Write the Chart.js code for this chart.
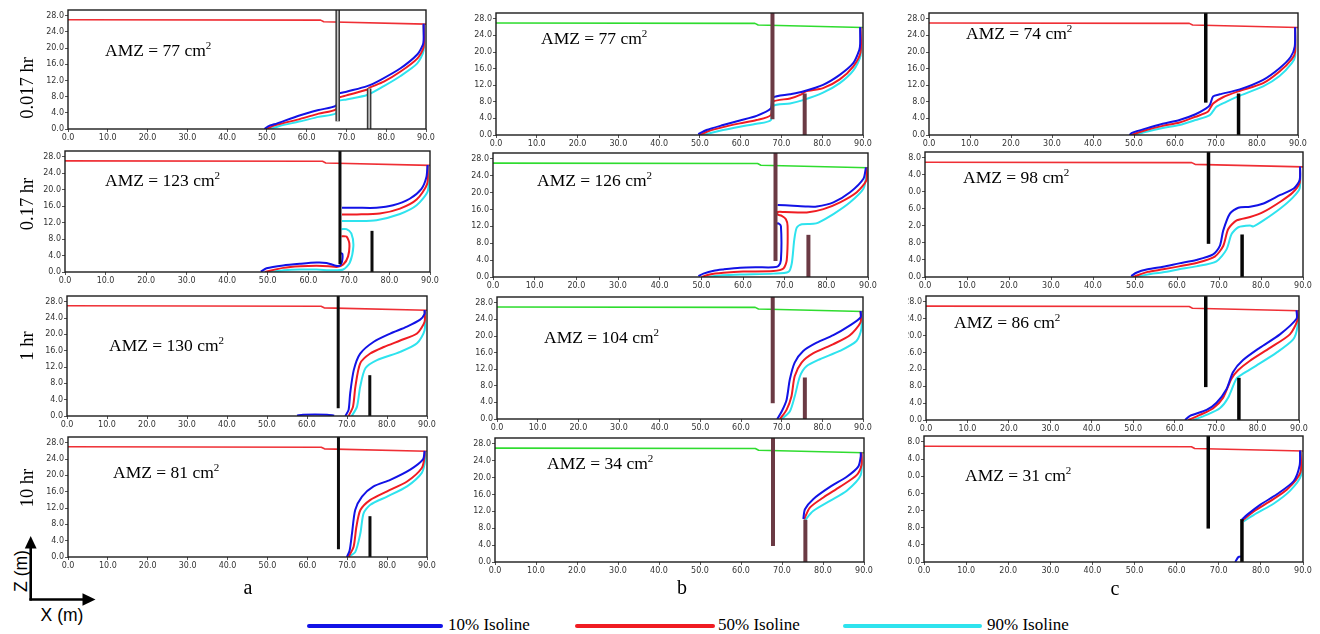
<!DOCTYPE html>
<html>
<head>
<meta charset="utf-8">
<script src="https://cdn.jsdelivr.net/npm/chart.js@4.4.0/dist/chart.umd.min.js"></script>
<style>
  html, body { margin:0; padding:0; background:#fff; width:1320px; height:634px; overflow:hidden; position:relative; }
  .panel { position:absolute; overflow:hidden; }
  .panel canvas { position:absolute; top:0; }
  .amz { position:absolute; font-family:"Liberation Serif","Times New Roman",serif; font-size:17.5px; line-height:20px; color:#000; white-space:nowrap; }
  .amz sup { font-size:11px; line-height:0; vertical-align:super; }
  .rowlab { position:absolute; font-family:"Liberation Serif","Times New Roman",serif; font-size:18.5px; line-height:20px; white-space:nowrap; transform:translate(-50%,-50%) rotate(-90deg); }
  .collab { position:absolute; font-family:"Liberation Serif","Times New Roman",serif; font-size:20px; line-height:22px; transform:translate(-50%,-50%); }
  .legline { position:absolute; height:4px; border-radius:2px; top:624px; }
  .legtxt { position:absolute; font-family:"Liberation Serif","Times New Roman",serif; font-size:17px; line-height:20px; top:615px; white-space:nowrap; }
  .axlab { position:absolute; font-family:"Liberation Sans",Arial,sans-serif; font-size:17.5px; line-height:20px; white-space:nowrap; }
</style>
</head>
<body>
<svg width="110" height="90" style="position:absolute;left:0;top:530px" viewBox="0 530 110 90">
  <line x1="30.7" y1="600.5" x2="30.7" y2="546" stroke="#000" stroke-width="2.6"/>
  <polygon points="30.7,536 24.8,548.5 36.6,548.5" fill="#000"/>
  <line x1="29.4" y1="599.5" x2="84" y2="599.5" stroke="#000" stroke-width="2.6"/>
  <polygon points="95.5,599.5 82.5,593.2 82.5,605.8" fill="#000"/>
</svg>
<div class="axlab" style="left:21px;top:571px;transform:translate(-50%,-50%) rotate(-90deg)">Z (m)</div>
<div class="axlab" style="left:62px;top:615px;transform:translate(-50%,-50%)">X (m)</div>

<script>
// Axis ticks shared by every panel
const xTicks = [0, 10, 20, 30, 40, 50, 60, 70, 80, 90];
const zTicks = [0, 4, 8, 12, 16, 20, 24, 28];
const zTop = 29.4;

// Water table (x, z)
const waterTable = [[0, 27.0], [63.5, 26.9], [64.3, 26.5], [90, 25.9]];

// Cut-off wall and downstream barrier for each scenario
const cutoffA = [[67.8, 1.9], [67.8, 29.4]];
const barrierA = [[75.7, 0], [75.7, 10]];
const cutoffB = [[67.8, 3.8], [67.8, 29.4]];
const barrierB = [[75.7, 0], [75.7, 10]];
const cutoffC = [[67.5, 7.8], [67.5, 29.4]];
const barrierC = [[75.5, 0], [75.5, 10]];

// Salinity isolines (x, z); null separates disconnected pieces
// 0.017 hr
const iso10_a1 = [[49.4,0],[50.2,0.6],[52.6,1.4],[58.4,3.4],[63,4.7],[67.4,5.8],[67.9,8.6],[70,9.2],[75.2,10.6],[78.5,12.1],[83.6,15],[87.8,18.4],[89.2,20.8],[89.4,22],[89.4,26]];
const iso50_a1 = [[49.9,0],[52,0.9],[58.4,2.5],[63,3.8],[67.4,4.9],[67.9,7.6],[70,8.3],[75.1,9.7],[75.8,10.2],[79.4,11.7],[83.6,14.2],[87.8,17.4],[89.4,20.2],[89.4,26]];
const iso90_a1 = [[50.8,0],[53,0.7],[58.4,1.9],[63,3],[67.4,3.9],[67.9,6.8],[70,7.3],[75.2,8.4],[79.4,10.6],[83.6,13.1],[87.8,16.2],[89.4,19.4],[89.4,26]];

const iso10_b1 = [[49.6,0.2],[51.6,1.2],[55.7,2.4],[59.8,3.5],[63.9,4.6],[67.4,6.4],[67.9,9],[72.1,9.8],[75.3,10.5],[80.2,12.1],[84.3,14.5],[87.6,17.3],[89.1,20.5],[89.3,22],[89.3,26]];
const iso50_b1 = [[50,0],[52,0.9],[55.7,1.9],[59.8,2.8],[63.9,3.6],[67.4,4.8],[67.9,8],[72.1,8.8],[74.9,9.8],[75.9,10.5],[80.2,11.3],[84.3,13.4],[87.6,16.5],[89.4,19.9],[89.4,26]];
const iso90_b1 = [[50.8,0],[55.7,1.2],[59.8,2],[63.9,2.7],[67.4,3.6],[67.9,7],[72.1,7.6],[75.3,8.4],[80.2,10.2],[84.3,12.5],[87.6,15.5],[89.4,19.1],[89.4,26]];

const iso10_c1 = [[48.9,0],[49.5,0.5],[53,1.6],[57,2.7],[61.1,3.6],[65,5],[67.6,6.4],[68.5,7.2],[69.3,9.3],[70.9,9.8],[75.8,11],[81.5,13.3],[85.5,16.1],[88.2,18.8],[89.2,21.3],[89.3,26]];
const iso50_c1 = [[49.3,0],[53,1.2],[57,2.2],[61.1,3],[65,4.4],[68,5.6],[69.3,7.6],[71.7,9.1],[75.4,10.5],[81.5,12.5],[85.5,15.3],[88.5,18.3],[89.3,20],[89.3,26]];
const iso90_c1 = [[50.2,0],[53,0.8],[57,1.7],[61.1,2.4],[65,3.6],[68.5,4.8],[70.1,6.8],[72.5,8],[75.4,9.3],[81.5,11.7],[85.5,14.2],[88.5,17.3],[89.3,19],[89.3,26]];

// 0.17 hr
const iso10_a2 = [[48.3,0.1],[49.7,0.9],[53.8,1.6],[57.9,2],[62,2.3],[64.5,2.2],[66.5,1.6],[67.7,1.5],[68.3,2.5],[68.4,4.4],[68,4.6], null,
                  [68.3,15.6],[72,15.6],[76.8,15.6],[80.9,16.2],[85,17.8],[87.9,20.2],[89.1,23],[89.4,26]];
const iso50_a2 = [[49.3,0],[53.8,1],[58,1.4],[62,1.5],[65,1.4],[67,1.2],[68.6,1.8],[69.8,3.8],[70.1,7],[69.4,8.6],[68.2,8.7], null,
                  [68.3,14],[72,14],[77.6,14.2],[82.6,15.4],[86.7,17.6],[89.3,21.4],[89.4,26]];
const iso90_a2 = [[50.5,0],[54,0.4],[58,0.6],[62,0.6],[66.1,0.4],[68.6,0.6],[70.2,2.2],[71.1,6.2],[70.6,9.4],[69.4,10.4],[68.2,10.4], null,
                  [68.3,12.4],[72,12.4],[76.8,12.6],[82.6,14.1],[86.7,16.2],[89.5,19.8],[89.5,26]];

const iso10_b2 = [[49.3,0.2],[50.5,0.8],[53,1.5],[55.3,1.8],[59.3,2.2],[63,2.3],[67.3,2.3],[68.5,2.6],[69.1,4],[69.1,12.1],[68.5,12.7],[68.1,12.7], null,
                  [68.3,17.1],[72,16.9],[75.3,16.7],[77.7,16.7],[81.7,17.7],[85.7,20.1],[88.9,23.3],[89.5,26]];
const iso50_b2 = [[50.1,0],[52,0.6],[55.3,1],[60,1.3],[67.3,1.4],[69.7,2],[70.5,4],[70.7,12.1],[70.3,13.7],[69.3,14.5],[68.3,14.8],[68.3,15.4],[70,15.4],[75.3,15.3],[79.3,16.1],[83.3,17.7],[87.3,20.1],[89.6,22.9],[89.6,26]];
const iso90_b2 = [[51.3,0],[55,0.4],[59.3,0.6],[67.3,0.8],[70.9,1.2],[71.7,3.2],[72.3,8.8],[72.9,11.7],[74.1,12.5],[76.9,12.6],[78.1,12.9],[81.7,14.9],[85.7,17.7],[88.9,20.9],[89.6,24.1],[89.6,26]];

const iso10_c2 = [[49.1,0.2],[50.3,1],[53,1.8],[56.7,2.4],[60.5,3.2],[64.6,4],[68.6,5.3],[70.2,7.3],[71,10.9],[72.6,14.9],[74.6,16.3],[77.4,16.5],[80.6,17.3],[84.6,19.3],[87.8,20.8],[89.2,22.8],[89.3,26]];
const iso50_c2 = [[49.5,0],[53,1.2],[56.7,1.8],[60.5,2.5],[64.6,3.3],[69,4.8],[71,7.3],[72.2,11.3],[74.2,13.3],[77.4,14.1],[80.6,15.3],[84.6,17.7],[87.5,19.8],[89.2,22.1],[89.3,26]];
const iso90_c2 = [[50.1,0],[53,0.6],[56.7,1.1],[60.5,1.8],[64.6,2.5],[69.4,3.7],[71.8,6.5],[73,10.1],[74.6,11.7],[77.4,12.1],[78.2,11.9],[80.6,13.3],[84.6,16.1],[87.5,18.6],[89.2,20.8],[89.3,26]];

// 1 hr
const iso10_a3 = [[57.5,0.1],[59,0.3],[62,0.35],[65,0.3],[66.8,0.1], null,
                  [69.6,0],[70.4,1.5],[70.8,5.6],[71.7,11.3],[73.3,15.3],[76.7,18.2],[80.8,20.2],[85,21.9],[88.3,23.6],[89.4,25],[89.4,26]];
const iso50_a3 = [[70.4,0],[71.5,2.3],[72.1,7.2],[73.3,12.9],[75.8,15.3],[79.2,16.9],[83.3,18.5],[87.5,20.2],[89.4,23.1],[89.4,26]];
const iso90_a3 = [[71.2,0],[72.5,2.3],[73.3,7.2],[74.6,11.7],[77.5,13.7],[83.3,15.7],[87.5,17.8],[89.4,21],[89.4,26]];

const iso10_b3 = [[68.9,0],[70,1.8],[71.2,4.6],[72,9.5],[73.2,13.6],[75.3,16.4],[78.6,18.4],[82.7,20.2],[86.7,22.5],[89.4,24.5],[89.4,26]];
const iso50_b3 = [[69.6,0],[71.2,2.2],[72.4,5.4],[73.2,10.3],[74.9,13.6],[77.7,15.8],[82.6,18],[86.7,20.1],[89.4,23.3],[89.4,26]];
const iso90_b3 = [[70,0],[72,1.8],[73.2,5.4],[74.5,10.3],[76.1,12.7],[79.4,14.4],[84.3,16.4],[88.4,18.8],[89.6,21.7],[89.6,26]];

const iso10_c3 = [[62.5,0],[63.7,1],[67.7,2.4],[70.1,4.1],[72.5,7.3],[74.1,11.4],[76.5,14.2],[80.5,17.1],[85.4,20.3],[89.4,24],[89.4,26]];
const iso50_c3 = [[63.3,0],[66.1,1.2],[69.3,2.8],[71.7,5.3],[73.7,9.8],[75.3,11.8],[78.1,14],[83,17.1],[87.8,20.3],[89.6,23.6],[89.6,26]];
const iso90_c3 = [[64.5,0],[67.7,1.2],[70.9,2.8],[72.9,5.3],[74.9,9.8],[76.5,11],[79.7,12.9],[84.5,15.9],[88.6,19.1],[89.6,22],[89.6,26]];

// 10 hr
const iso10_a4 = [[69.9,0],[70.6,1.6],[71.2,5.8],[72,11.5],[73.7,14.8],[76.6,17.3],[80.8,18.9],[85.8,21.4],[89,23.9],[89.4,26]];
const iso50_a4 = [[70.3,0],[71.6,2.5],[72.3,7.4],[73.3,11.5],[75.8,14],[80,16.1],[85,18.5],[88.7,21.8],[89.4,24.7],[89.4,26]];
const iso90_a4 = [[70.1,0],[72,1.2],[73.3,5.8],[74.1,10.7],[75.8,12.8],[80,14.8],[85,17.3],[88.7,20.6],[89.6,23.9],[89.6,26]];

const iso10_b4 = [[75.2,10.2],[75.6,12.5],[77.6,14.9],[81.7,17.8],[85.8,20.2],[88.6,22.6],[89.2,25],[89.2,26]];
const iso50_b4 = [[75.4,10.1],[76.8,12.9],[80.1,15.3],[84.1,17.8],[88.2,20.6],[89.4,23],[89.4,26]];
const iso90_b4 = [[75.6,9.9],[77.6,12.1],[81.7,14.5],[85.8,16.9],[89.2,20.6],[89.4,26]];

const iso10_c4 = [[73.9,0],[74.7,1.2],[75.5,1.3], null,
                  [75.5,9.9],[76.7,11],[79.9,13.4],[83.8,15.8],[87.8,18.9],[89.2,22.5],[89.3,26]];
const iso50_c4 = [[75.7,9.7],[78.3,11.8],[82.2,14.2],[86.2,16.9],[89.4,20.9],[89.4,26]];
const iso90_c4 = [[75.9,9.5],[79,11.4],[83,13.6],[86.9,16.6],[89.5,20.1],[89.5,26]];

// Aquifer mixing zone areas (cm²)
const amzA = [77, 123, 130, 81];
const amzB = [77, 126, 104, 34];
const amzC = [74, 98, 86, 31];

const timeLabels = ['0.017 hr', '0.17 hr', '1 hr', '10 hr'];
const scenarioLabels = ['a', 'b', 'c'];
const isolineLabels = ['10% Isoline', '50% Isoline', '90% Isoline'];

// ---------------------------------------------------------------------------
const COLORS = { iso10:'#1212e6', iso50:'#f01c22', iso90:'#2ee3ee', wtRed:'#ef2f35', wtGreen:'#2fdc2f' };

const columns = {
  a: { wt: COLORS.wtRed,   wall:'#0d0d0d', wallW:3,   cutoff:cutoffA, barrier:barrierA },
  b: { wt: COLORS.wtGreen, wall:'#6b3a44', wallW:4,   cutoff:cutoffB, barrier:barrierB },
  c: { wt: COLORS.wtRed,   wall:'#050505', wallW:3.5, cutoff:cutoffC, barrier:barrierC }
};

const panels = [
  { col:'a', row:0, box:[68,10,426,129],   amz:amzA[0], at:[105,50],  iso:[iso10_a1, iso50_a1, iso90_a1], hollow:true },
  { col:'a', row:1, box:[65,151,430,272],  amz:amzA[1], at:[105,180], iso:[iso10_a2, iso50_a2, iso90_a2] },
  { col:'a', row:2, box:[67,296,427,416],  amz:amzA[2], at:[109,345], iso:[iso10_a3, iso50_a3, iso90_a3] },
  { col:'a', row:3, box:[68,437,427,557],  amz:amzA[3], at:[113,472], iso:[iso10_a4, iso50_a4, iso90_a4] },
  { col:'b', row:0, box:[496,13,863,135],  amz:amzB[0], at:[541,38],  iso:[iso10_b1, iso50_b1, iso90_b1] },
  { col:'b', row:1, box:[493,153,868,277], amz:amzB[1], at:[537,180], iso:[iso10_b2, iso50_b2, iso90_b2] },
  { col:'b', row:2, box:[497,297,863,419], amz:amzB[2], at:[544,337], iso:[iso10_b3, iso50_b3, iso90_b3] },
  { col:'b', row:3, box:[495,438,864,562], amz:amzB[3], at:[547,463], iso:[iso10_b4, iso50_b4, iso90_b4] },
  { col:'c', row:0, box:[929,13,1298,135], amz:amzC[0], at:[966,33],  iso:[iso10_c1, iso50_c1, iso90_c1] },
  { col:'c', row:1, box:[925,152,1303,277],amz:amzC[1], at:[963,177], iso:[iso10_c2, iso50_c2, iso90_c2], clip:908 },
  { col:'c', row:2, box:[926,296,1299,420],amz:amzC[2], at:[954,322], iso:[iso10_c3, iso50_c3, iso90_c3], clip:908 },
  { col:'c', row:3, box:[924,436,1303,562],amz:amzC[3], at:[965,475], iso:[iso10_c4, iso50_c4, iso90_c4], clip:908 }
];

const toXY = arr => arr.map(p => p ? { x:p[0], y:p[1] } : { x:null, y:null });

function series(arr, color, width, tension) {
  return {
    data: toXY(arr), borderColor: color, backgroundColor: color, borderWidth: width,
    showLine: true, pointRadius: 0, pointHoverRadius: 0, fill: false,
    tension: tension, spanGaps: false, borderCapStyle: 'butt', borderJoinStyle: 'round'
  };
}

// Frame around the plotting area
const framePlugin = {
  id: 'frame',
  afterDatasetsDraw(chart) {
    const { ctx, chartArea: a } = chart;
    ctx.save();
    ctx.strokeStyle = '#1c1c1c';
    ctx.lineWidth = 1.4;
    ctx.strokeRect(a.left, a.top, a.right - a.left, a.bottom - a.top);
    ctx.restore();
  }
};

const tickFont = { family: '"DejaVu Sans", Verdana, sans-serif', size: 8 };

panels.forEach(p => {
  const [L, T, R, B] = p.box;
  const st = columns[p.col];
  const cw = R - L + 48, ch = B - T + 22;
  const cl = L - 34, ct = T - 6;
  const clip = p.clip || cl;

  const wrap = document.createElement('div');
  wrap.className = 'panel';
  wrap.style.left = clip + 'px';
  wrap.style.top = ct + 'px';
  wrap.style.width = (cl + cw - clip) + 'px';
  wrap.style.height = ch + 'px';
  const cv = document.createElement('canvas');
  cv.width = cw; cv.height = ch;
  cv.style.width = cw + 'px'; cv.style.height = ch + 'px';
  cv.style.left = (cl - clip) + 'px';
  wrap.appendChild(cv);
  document.body.appendChild(wrap);

  // first dataset is drawn on top
  const ds = [];
  if (p.hollow) {
    ds.push(series(st.cutoff, '#c9c9c9', 1.6, 0));
    ds.push(series(st.barrier, '#c9c9c9', 1.6, 0));
    ds.push(series(st.cutoff, '#3a3a3a', 4.6, 0));
    ds.push(series(st.barrier, '#3a3a3a', 4.6, 0));
  } else {
    ds.push(series(st.cutoff, st.wall, st.wallW, 0));
    ds.push(series(st.barrier, st.wall, st.wallW, 0));
  }
  ds.push(series(p.iso[0], COLORS.iso10, 2, 0.25));
  ds.push(series(p.iso[1], COLORS.iso50, 2, 0.25));
  ds.push(series(p.iso[2], COLORS.iso90, 2, 0.25));
  ds.push(series(waterTable, st.wt, 1.6, 0));

  new Chart(cv, {
    type: 'scatter',
    data: { datasets: ds },
    options: {
      responsive: false, animation: false, devicePixelRatio: 1,
      layout: { padding: { top: 6, right: 14, left: 0, bottom: 0 } },
      plugins: { legend: { display: false }, tooltip: { enabled: false } },
      events: [],
      scales: {
        x: {
          type: 'linear', min: 0, max: 90,
          afterBuildTicks: s => { s.ticks = xTicks.map(v => ({ value: v })); },
          afterFit: s => { s.height = 16; },
          ticks: { font: tickFont, color: '#333', padding: 1, autoSkip: false, maxRotation: 0,
                   callback: v => Number(v).toFixed(1) },
          grid: { drawOnChartArea: false, drawTicks: true, tickLength: 3, color: '#555' },
          border: { display: false }
        },
        y: {
          type: 'linear', min: 0, max: zTop,
          afterBuildTicks: s => { s.ticks = zTicks.map(v => ({ value: v })); },
          afterFit: s => { s.width = 34; },
          ticks: { font: tickFont, color: '#333', padding: 1, autoSkip: false,
                   callback: v => Number(v).toFixed(1) },
          grid: { drawOnChartArea: false, drawTicks: true, tickLength: 3, color: '#555' },
          border: { display: false }
        }
      }
    },
    plugins: [framePlugin]
  });

  const t = document.createElement('div');
  t.className = 'amz';
  t.style.left = p.at[0] + 'px';
  t.style.top = (p.at[1] - 10) + 'px';
  t.innerHTML = 'AMZ = ' + p.amz + ' cm<sup>2</sup>';
  document.body.appendChild(t);
});

// Row (time) labels
[88, 204, 346, 488].forEach((y, i) => {
  const d = document.createElement('div');
  d.className = 'rowlab';
  d.style.left = '27px'; d.style.top = y + 'px';
  d.textContent = timeLabels[i];
  document.body.appendChild(d);
});

// Scenario labels
[[248, 587], [682, 587], [1115, 588]].forEach((pos, i) => {
  const d = document.createElement('div');
  d.className = 'collab';
  d.style.left = pos[0] + 'px'; d.style.top = pos[1] + 'px';
  d.textContent = scenarioLabels[i];
  document.body.appendChild(d);
});

// Isoline key
const keyItems = [
  { color: COLORS.iso10, x0: 307, w: 136, tx: 448 },
  { color: COLORS.iso50, x0: 575, w: 140, tx: 718 },
  { color: COLORS.iso90, x0: 843, w: 139, tx: 987 }
];
keyItems.forEach((k, i) => {
  const ln = document.createElement('div');
  ln.className = 'legline';
  ln.style.left = k.x0 + 'px'; ln.style.width = k.w + 'px'; ln.style.background = k.color;
  document.body.appendChild(ln);
  const tx = document.createElement('div');
  tx.className = 'legtxt';
  tx.style.left = k.tx + 'px';
  tx.textContent = isolineLabels[i];
  document.body.appendChild(tx);
});
</script>
</body>
</html>
